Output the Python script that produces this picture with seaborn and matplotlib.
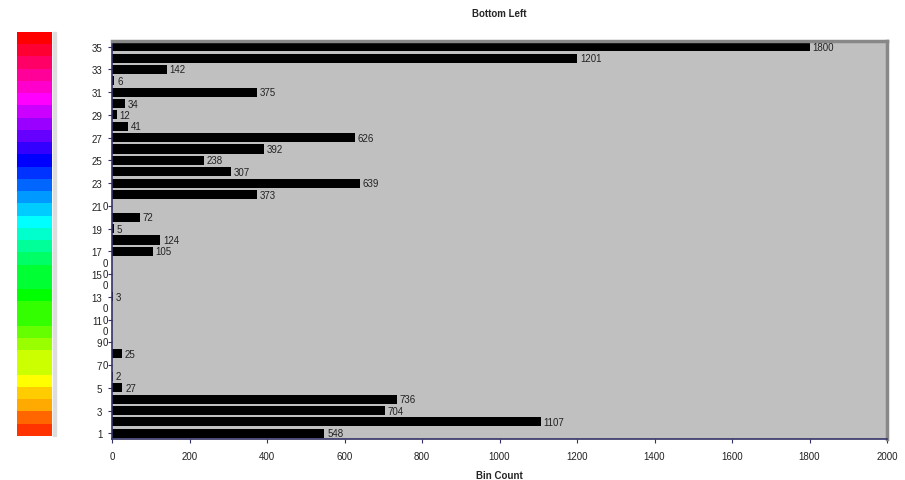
import matplotlib
matplotlib.use("Agg")
import matplotlib.pyplot as plt
import seaborn as sns
import pandas as pd
import numpy as np

categories = list(range(1, 36))
values = [548, 1107, 704, 736, 27, 2, 0, 25, 0, 0,
          0, 0, 3, 0, 0, 0, 105, 124, 5, 72,
          0, 373, 639, 307, 238, 392, 626, 41, 12, 34,
          375, 6, 142, 1201, 1800]
ytick_labels = [str(c) for c in range(1, 36, 2)]
xticks = list(range(0, 2001, 200))

legend_colors = ["#ff0000", "#ff0033", "#ff0066", "#ff0099", "#ff00cc", "#ff00ff",
                 "#cc00ff", "#9900ff", "#6600ff", "#3300ff", "#0000ff", "#0033ff",
                 "#0066ff", "#0099ff", "#00ccff", "#00ffff", "#00ffcc", "#00ff99",
                 "#00ff66", "#00ff33", "#00ff33", "#00ff00", "#33ff00", "#33ff00",
                 "#66ff00", "#99ff00", "#ccff00", "#ccff00", "#ffff00", "#ffcc00",
                 "#ffaa00", "#ff6600", "#ff3300"]

df = pd.DataFrame({"cat": categories, "val": values})

sns.set_theme(style="white")
plt.rcParams["font.family"] = ["Liberation Sans", "DejaVu Sans"]

fig = plt.figure(figsize=(9.05, 4.81), dpi=100)
ax = fig.add_axes([112/905, 1-440/481, (887-112)/905, (440-42)/481])
ax.set_facecolor("#c0c0c0")

sns.barplot(data=df, x="val", y="cat", orient="h", native_scale=True,
            color="black", width=0.8, ax=ax, saturation=1,
            edgecolor="black", linewidth=0)
ax.set_ylim(0.5, 35.5)
ax.set_xlim(0, 2000)
ax.set_yticks(range(1, 36, 2))
ax.set_yticklabels(ytick_labels, fontsize=7, color="#222222")
ax.set_xticks(xticks)
ax.set_xticklabels([str(t) for t in xticks], fontsize=7, color="#222222")
ax.tick_params(axis="y", length=3, width=0.8, color="#333366", pad=4, direction="out", left=True)
ax.tick_params(axis="x", length=3, width=0.8, color="#333366", pad=6, direction="out", bottom=True)
ax.set_xlabel("Bin Count", fontsize=7, fontweight="bold", labelpad=6)
ax.set_ylabel("")
ax.set_title("Bottom Left", fontsize=7, fontweight="bold", pad=18)

for s in ["left", "bottom"]:
    ax.spines[s].set_color("#333366")
    ax.spines[s].set_linewidth(1.2)
for s in ["right", "top"]:
    ax.spines[s].set_color("#888888")
    ax.spines[s].set_linewidth(2.5)

for c, v in zip(categories, values):
    if v > 0:
        ax.annotate(str(v), (v, c), xytext=(2, 0), textcoords="offset points",
                    va="center", ha="left", fontsize=7, color="#222222")
    else:
        ax.annotate(str(v), (0, c), xytext=(-7, 0), textcoords="offset points",
                    va="center", ha="left", fontsize=7, color="#222222")

# colour legend strip on the left
lax = fig.add_axes([17/905, 1-437/481, 35/905, (437-33)/481])
rgb = np.array([matplotlib.colors.to_rgb(c) for c in legend_colors])[:, None, :]
lax.imshow(rgb, aspect="auto", interpolation="nearest")
lax.set_xticks([])
lax.set_yticks([])
for s in lax.spines.values():
    s.set_visible(False)
fig.patches.append(matplotlib.patches.Rectangle((53/905, 1-437/481), 3/905, (437-33)/481,
                   transform=fig.transFigure, color="#dddddd", zorder=0))

fig.savefig("out.png", dpi=100)
